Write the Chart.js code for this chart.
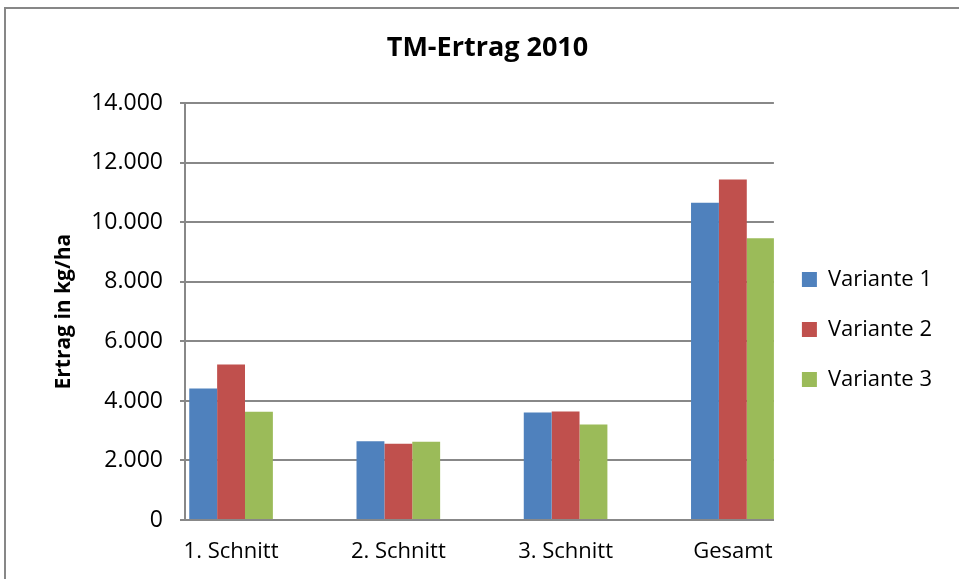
<!DOCTYPE html>
<html>
<head>
<meta charset="utf-8">
<script src="https://cdn.jsdelivr.net/npm/chart.js@4/dist/chart.umd.min.js"></script>
<style>
  html, body { margin: 0; padding: 0; background: #fff; }
  #wrap { position: relative; width: 959px; height: 579px; overflow: hidden; background: #fff; }
  #frame { position: absolute; left: 4px; top: 7px; width: 2000px; height: 2000px; border: 2px solid #878787; box-sizing: border-box; }
  #cv { position: absolute; left: 0; top: 0; }
</style>
</head>
<body>
<div id="wrap">
  <div id="frame"></div>
  <canvas id="cv" width="975" height="579"></canvas>
</div>
<script>
const categories = ['1. Schnitt', '2. Schnitt', '3. Schnitt', 'Gesamt'];
const seriesNames = ['Variante 1', 'Variante 2', 'Variante 3'];
const variante1 = [4420, 2650, 3615, 10665];
const variante2 = [5225, 2560, 3650, 11440];
const variante3 = [3635, 2630, 3210, 9470];
const seriesColors = ['#4F81BD', '#C0504D', '#9BBB59'];
const yTicks = [0, 2000, 4000, 6000, 8000, 10000, 12000, 14000];

const FONT = "'Open Sans', 'Liberation Sans', sans-serif";
const GRID = '#888888';

function fmt(v) {
  return String(v).replace(/\B(?=(\d{3})+(?!\d))/g, '.');
}

const allSeries = [variante1, variante2, variante3];
const datasets = allSeries.map((vals, s) => ({
  label: seriesNames[s],
  data: vals.map((v, i) => ({ x: i, y: v })),
  backgroundColor: seriesColors[s],
  borderWidth: 0,
  categoryPercentage: 0.5,
  barPercentage: 1.0
}));

new Chart(document.getElementById('cv'), {
  type: 'bar',
  data: { datasets },
  options: {
    responsive: false,
    animation: false,
    devicePixelRatio: 1,
    layout: { padding: { left: 33, right: 33, top: 0, bottom: 0 } },
    plugins: {
      title: {
        display: true,
        text: 'TM-Ertrag 2010',
        color: '#000',
        font: { family: FONT, size: 27, weight: 'bold' },
        padding: { top: 32, bottom: 39 }
      },
      legend: {
        display: true,
        position: 'right',
        align: 'center',
        title: {
          display: true,
          text: ' ',
          font: { family: FONT, size: 10 },
          padding: { top: 68, bottom: 0 }
        },
        labels: {
          color: '#000',
          font: { family: FONT, size: 22 },
          boxWidth: 15,
          boxHeight: 15,
          padding: 28
        }
      },
      tooltip: { enabled: false }
    },
    scales: {
      x: {
        type: 'linear',
        offset: false,
        min: -0.2754,
        max: 3.2455,
        grid: { display: false, drawTicks: false },
        border: { display: true, color: GRID, width: 2 },
        ticks: {
          stepSize: 1,
          includeBounds: false,
          autoSkip: false,
          maxRotation: 0,
          color: '#000',
          font: { family: FONT, size: 22 },
          padding: 19,
          callback: (v) => (Number.isInteger(v) && categories[v] !== undefined) ? categories[v] : ''
        },
        afterFit: (scale) => { scale.height = 59; }
      },
      y: {
        min: 0,
        max: 14000,
        afterBuildTicks: (scale) => { scale.ticks = yTicks.map(v => ({ value: v })); },
        grid: { display: true, color: GRID, lineWidth: 2, drawTicks: true, tickLength: 5 },
        border: { display: true, color: GRID, width: 2 },
        ticks: {
          color: '#000',
          font: { family: FONT, size: 23 },
          padding: 17,
          callback: (v) => fmt(v)
        },
        title: {
          display: true,
          text: 'Ertrag in kg/ha',
          color: '#000',
          font: { family: FONT, size: 21, weight: 'bold' },
          padding: { top: 18, bottom: 0 }
        },
        afterFit: (scale) => { scale.width = 152; }
      }
    }
  }
});
</script>
</body>
</html>
